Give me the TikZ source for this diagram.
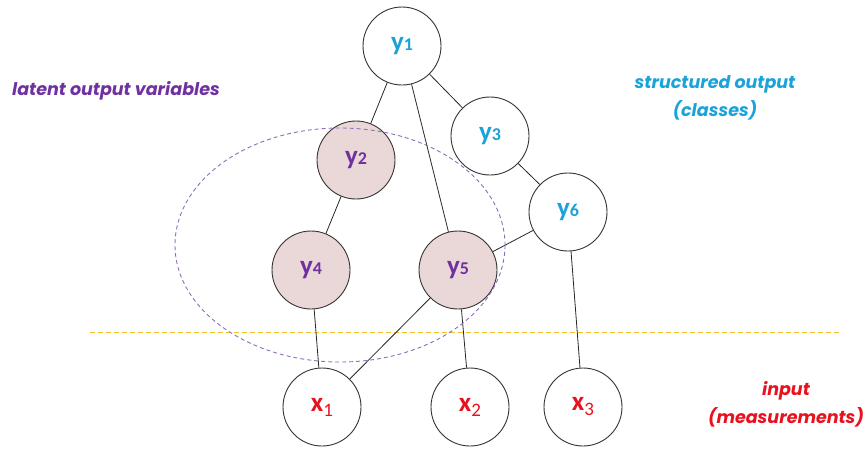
\documentclass[tikz,border=0pt]{standalone}
\usepackage{fontspec}
\setmainfont{Carlito}
\newfontfamily\notefont{Poppins}
\usetikzlibrary{calc}
\definecolor{cyanT}{HTML}{1BA3D9}
\definecolor{purpT}{HTML}{7030A0}
\definecolor{redT}{HTML}{E8121F}
\definecolor{pinkF}{HTML}{EAD7D7}
\definecolor{orangeL}{HTML}{F2C230}
\definecolor{ellC}{HTML}{8C6FB8}
\tikzset{
  var/.style={circle, draw=black!80, line width=0.9pt, minimum size=78pt, inner sep=0pt, fill=white, font=\fontsize{27}{29}\selectfont\bfseries},
  latent/.style={var, fill=pinkF, text=purpT},
  outv/.style={var, text=cyanT},
  inv/.style={var, text=redT},
  edge/.style={draw=black!85, line width=0.8pt},
  note/.style={font=\notefont\fontsize{17.5}{28}\selectfont\bfseries\itshape, align=center}
}
\newcommand{\ysub}[1]{y{\fontsize{18}{18}\selectfont #1}}
\newcommand{\xsub}[1]{x\raisebox{-5pt}{\fontsize{19}{19}\selectfont\mdseries #1}}
\begin{document}
\begin{tikzpicture}[x=1pt,y=-1pt]
\useasboundingbox (0,0) rectangle (864,450);
\draw[orangeL, line width=0.9pt, dash pattern=on 5pt off 3pt] (90,332) -- (840,332);
\node[outv] (y1) at (402,46) {\ysub{1}};
\node[latent] (y2) at (356,160) {\ysub{2}};
\node[outv] (y3) at (490,136) {\ysub{3}};
\node[outv] (y6) at (568,212) {\ysub{6}};
\node[latent] (y4) at (311,270) {\ysub{4}};
\node[latent] (y5) at (458,270) {\ysub{5}};
\node[inv] (x1) at (322,407) {\xsub{1}};
\node[inv] (x2) at (470,407) {\xsub{2}};
\node[inv] (x3) at (583,407) {\xsub{3}};
\draw[edge] (y1) -- (y2);
\draw[edge] (y1) -- (y5);
\draw[edge] (y1) -- (y3);
\draw[edge] (y3) -- (y6);
\draw[edge] (y2) -- (y4);
\draw[edge] (y4) -- (x1);
\draw[edge] (y5) -- (x1);
\draw[edge] (y5) -- (x2);
\draw[edge] (y6) -- (x3);
\draw[edge] (y6) -- (y5);
\coordinate (ec) at (340,245);
\draw[ellC, line width=0.9pt, dash pattern=on 4pt off 3pt] (ec) ellipse [x radius=165, y radius=117];
\node[note, text=purpT] (l1) at (116,91) {latent output variables};
\node[note, text=cyanT] (l2) at (715,98) {structured output\\(classes)};
\node[note, text=redT] (l3) at (786,404) {input\\(measurements)};
\end{tikzpicture}
\end{document}
